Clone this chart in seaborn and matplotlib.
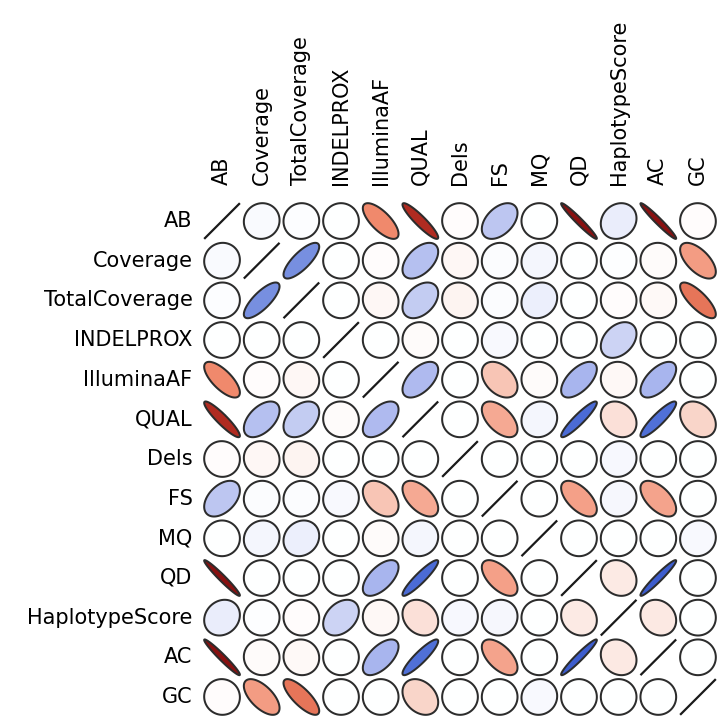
import numpy as np
import pandas as pd
import seaborn as sns
import matplotlib
matplotlib.use("Agg")
import matplotlib.pyplot as plt
from matplotlib.colors import LinearSegmentedColormap

variables = ["AB", "Coverage", "TotalCoverage", "INDELPROX", "IlluminaAF", "QUAL",
             "Dels", "FS", "MQ", "QD", "HaplotypeScore", "AC", "GC"]

# correlation of each variable with every variable (same order as above)
r_AB             = [1.00, 0.04, 0.02, 0.00, -0.72, -0.92, -0.02, 0.45, 0.00, -0.97, 0.15, -0.97, -0.02]
r_Coverage       = [0.04, 1.00, 0.78, 0.00, -0.02, 0.50, -0.06, 0.03, 0.08, 0.00, 0.01, -0.03, -0.62]
r_TotalCoverage  = [0.02, 0.78, 1.00, 0.00, -0.06, 0.40, -0.08, 0.03, 0.14, 0.00, -0.02, -0.04, -0.78]
r_INDELPROX      = [0.00, 0.00, 0.00, 1.00, 0.00, -0.03, 0.00, 0.05, 0.00, 0.00, 0.35, 0.00, 0.00]
r_IlluminaAF     = [-0.72, -0.02, -0.06, 0.00, 1.00, 0.55, 0.00, -0.40, -0.03, 0.60, -0.05, 0.60, 0.00]
r_QUAL           = [-0.92, 0.50, 0.40, -0.03, 0.55, 1.00, 0.00, -0.55, 0.08, 0.92, -0.22, 0.90, -0.30]
r_Dels           = [-0.02, -0.06, -0.08, 0.00, 0.00, 0.00, 1.00, 0.00, 0.00, 0.00, 0.06, 0.00, 0.00]
r_FS             = [0.45, 0.03, 0.03, 0.05, -0.40, -0.55, 0.00, 1.00, 0.00, -0.60, 0.07, -0.58, 0.00]
r_MQ             = [0.00, 0.08, 0.14, 0.00, -0.03, 0.08, 0.00, 0.00, 1.00, 0.00, 0.00, 0.00, 0.05]
r_QD             = [-0.97, 0.00, 0.00, 0.00, 0.60, 0.92, 0.00, -0.60, 0.00, 1.00, -0.15, 0.96, 0.00]
r_HaplotypeScore = [0.15, 0.01, -0.02, 0.35, -0.05, -0.22, 0.06, 0.07, 0.00, -0.15, 1.00, -0.16, 0.00]
r_AC             = [-0.97, -0.03, -0.04, 0.00, 0.60, 0.90, 0.00, -0.58, 0.00, 0.96, -0.16, 1.00, 0.00]
r_GC             = [-0.02, -0.62, -0.78, 0.00, 0.00, -0.30, 0.00, 0.00, 0.05, 0.00, 0.00, 0.00, 1.00]

corr = pd.DataFrame(
    [r_AB, r_Coverage, r_TotalCoverage, r_INDELPROX, r_IlluminaAF, r_QUAL, r_Dels,
     r_FS, r_MQ, r_QD, r_HaplotypeScore, r_AC, r_GC],
    index=variables, columns=variables)

sns.set_style("white")
plt.rcParams["font.family"] = ["DejaVu Sans"]

# diverging fill: negative -> red, positive -> blue
cmap = LinearSegmentedColormap.from_list("corr_rb", [
    (0.000, "#7f0a0a"),
    (0.025, "#951818"),
    (0.050, "#c43a28"),
    (0.125, "#ef8466"),
    (0.200, "#f4a088"),
    (0.300, "#f8c6b6"),
    (0.400, "#fbe4dc"),
    (0.500, "#ffffff"),
    (0.600, "#e4e8fa"),
    (0.700, "#c4ccf2"),
    (0.800, "#a8b5ee"),
    (0.875, "#8196e2"),
    (0.950, "#5272d8"),
    (1.000, "#3050c8"),
])

fig = plt.figure(figsize=(7.19, 7.19), dpi=100)
ax = fig.add_axes([202.2 / 719, 2.2 / 719, 515.6 / 719, 515.6 / 719])

# empty heatmap grid provides the cell layout and the labels
sns.heatmap(corr, mask=np.ones_like(corr.values, dtype=bool), cbar=False, ax=ax,
            xticklabels=variables, yticklabels=variables)

ax.xaxis.tick_top()
ax.tick_params(axis="x", length=0, pad=12, labelsize=15, rotation=90, labelcolor="black")
ax.tick_params(axis="y", length=0, pad=7, labelsize=15, rotation=0, labelcolor="black")
for lab in ax.get_xticklabels():
    lab.set_verticalalignment("bottom")
for sp in ax.spines.values():
    sp.set_visible(False)

s = 0.45
t = np.linspace(0, 2 * np.pi, 200)
n = len(variables)
for i in range(n):
    for j in range(n):
        r = float(corr.iloc[i, j])
        cx, cy = j + 0.5, i + 0.5
        if r >= 0.999:
            # perfect correlation collapses the ellipse to a diagonal stroke
            ax.plot([cx - s, cx + s], [cy + s, cy - s], color="#1a1a1a",
                    linewidth=1.6, solid_capstyle="butt", clip_on=False, zorder=3)
            continue
        d = np.arccos(np.clip(r, -1, 1))
        ex = cx + s * np.cos(t + d / 2)
        ey = cy - s * np.cos(t - d / 2)
        ax.fill(ex, ey, facecolor=cmap((r + 1) / 2), edgecolor="#2c2c2c",
                linewidth=1.45, clip_on=False, zorder=3)

fig.savefig("out.png", dpi=100)
